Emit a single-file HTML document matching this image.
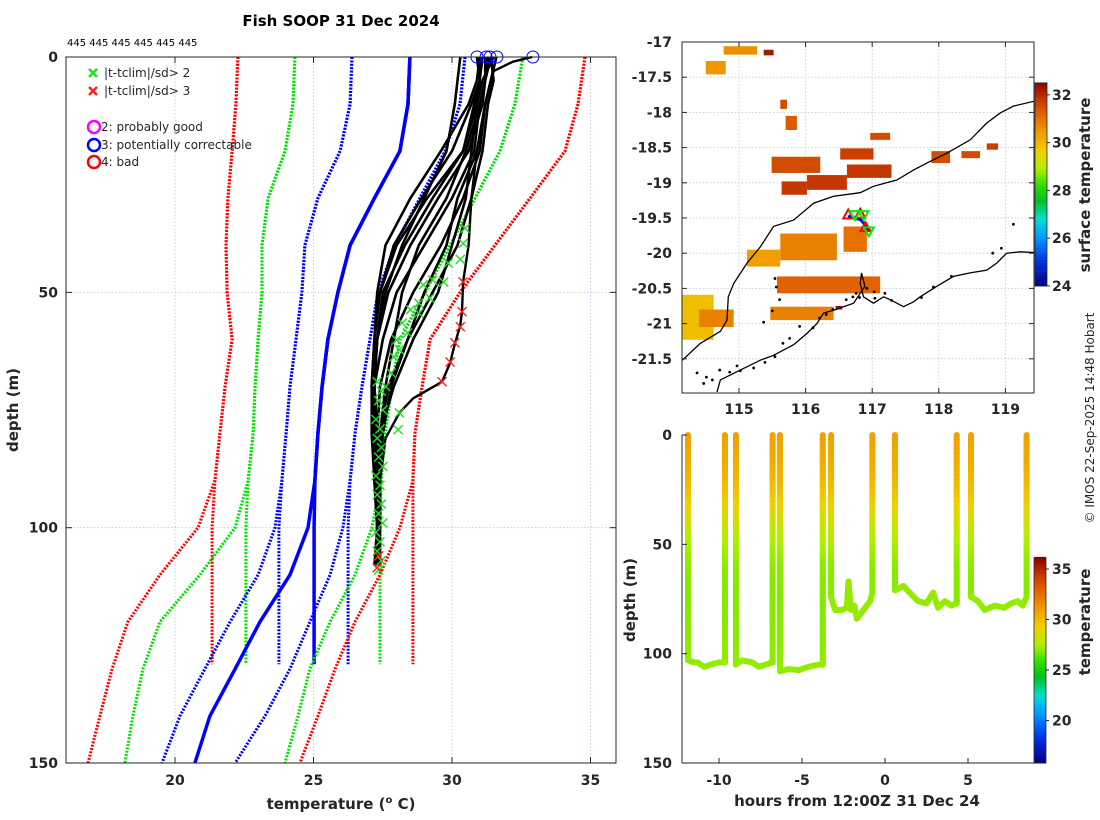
<!DOCTYPE html>
<html><head><meta charset="utf-8">
<style>
html,body{margin:0;padding:0;background:#fff;}
svg{display:block;font-family:"DejaVu Sans","Liberation Sans",sans-serif;}
.tk{font-size:14px;font-weight:bold;fill:#262626;}
.lb{font-size:15px;font-weight:bold;fill:#262626;}
</style></head>
<body>
<svg id="fig" width="1100" height="820" viewBox="0 0 1100 820" xmlns="http://www.w3.org/2000/svg">
<text x="341" y="26" text-anchor="middle" style="font-size:15px;font-weight:bold">Fish SOOP 31 Dec 2024</text>
<text x="67" y="46" style="font-size:10px">445 445 445 445 445 445</text>
<g id="left"></g>
<g id="map"></g>
<g id="br"></g>
<text transform="translate(1094,418) rotate(-90)" text-anchor="middle" style="font-size:12px;fill:#262626">© IMOS 22-Sep-2025 14:48 Hobart</text>
</svg>
<script>
// ===== Left panel data =====
const climDepthsUpper = [0,10,20,30,40,50,60,70,80,90,100];
const climDepthsA = [100,110,120,129];
const climDepthsB = [100,110,120,130,140,150];
const red3Lo   = [22.27,22.20,22.06,21.91,21.84,21.88,22.06,21.81,21.62,21.44,21.34];
const green2Lo = [24.33,24.26,23.97,23.36,23.14,23.14,23.00,22.89,22.82,22.64,22.56];
const blue1Lo  = [26.39,26.32,25.96,25.16,24.69,24.58,24.37,24.15,24.01,23.86,23.75];
const climMean = [28.48,28.41,28.12,27.20,26.32,25.88,25.52,25.31,25.16,25.05,25.02];
const blue1Hi  = [30.47,30.29,29.75,28.84,27.94,27.33,27.04,26.75,26.50,26.32,26.25];
const green2Hi = [32.56,32.27,31.73,30.83,29.93,29.03,28.12,27.83,27.58,27.44,27.40];
const red3Hi   = [34.80,34.55,34.08,32.82,31.55,30.29,29.21,28.92,28.66,28.59,28.59];
const tailB_red3Lo   = [20.83,19.46,18.30,17.73,17.29,16.86];
const tailB_green2Lo = [22.17,20.90,19.46,18.84,18.48,18.19];
const tailB_blue1Lo  = [23.61,23.00,21.99,21.08,20.18,19.53];
const tailB_mean     = [24.80,24.15,23.07,22.17,21.26,20.72];
const tailB_blue1Hi  = [26.06,25.60,24.87,24.15,23.25,22.17];
const tailB_green2Hi = [27.11,26.50,25.60,24.87,24.44,23.97];
const tailB_red3Hi   = [28.12,27.40,26.50,25.78,25.16,24.51];
const profDepths = [0,5,10,20,30,40,50,60,70,80,90,100,108];
const profTemps = [
 [30.9,31.0,30.9,30.4,29.1,28.0,27.4,27.2,27.1,27.2,27.3,27.4,27.3],
 [31.2,31.2,31.1,30.6,29.5,28.5,27.7,27.3,27.2,27.2,27.3,27.3,27.4],
 [31.4,31.2,31.0,30.8,30.0,29.0,28.0,27.5,27.2,27.3,27.3,27.3,27.3],
 [31.6,31.4,31.2,31.0,30.4,29.6,28.6,27.8,27.4,27.3,27.4,27.3,27.4],
 [31.4,31.5,31.3,31.1,30.7,30.2,29.3,28.4,27.7,27.4,27.4,27.4,27.3],
 [30.3,30.2,30.1,29.8,29.0,28.2,27.6,27.3,27.2,27.3,27.3,27.3,27.3],
 [31.3,31.2,31.0,30.5,29.8,28.8,28.2,27.9,27.6,27.4,27.4,27.3,27.3],
 [31.0,31.0,30.8,30.4,29.3,28.3,27.5,27.3,27.1,27.2,27.3,27.3,27.2],
 [31.6,31.4,31.2,30.9,30.2,29.8,29.0,28.4,27.8,27.5,27.4,27.4,27.4],
 [31.5,31.1,30.9,30.7,30.5,30.0,29.5,28.6,27.9,27.4,27.3,27.3,27.3],
 [31.0,30.9,30.6,29.6,28.5,27.6,27.3,27.2,27.1,27.2,27.2,27.3,27.3],
 [31.1,31.0,30.7,30.0,28.9,27.9,27.4,27.2,27.1,27.1,27.2,27.3,27.3]
];
const warmDepths = [0,1,3,10,20,30,40,47.8,54,57,61,65,69,72.5,75.6,81,90,100,108];
const warmTemps  = [32.9,32.2,31.5,31.2,30.9,30.7,30.6,30.4,30.36,30.3,30.1,29.93,29.64,28.6,28.1,27.6,27.4,27.4,27.3];
const flagGreenT = [30.47,30.4,30.3,29.86,29.7,29.3,28.96,29.2,28.8,28.8,28.5,28.2,28.4,28.0,28.1,27.9,27.8,27.6,28.1,28.05,
 27.3,27.45,27.35,27.5,27.25,27.4,27.3,27.45,27.35,27.5,27.25,27.4,27.3,27.45,27.35,27.5,27.25,27.4,27.3,27.45,27.35];
const flagGreenD = [36.4,39.6,43,43.8,47.8,47.4,48.4,51.2,52.3,54.4,53.7,56.5,58.6,60.1,62.2,63.7,67.1,70,75.6,79.2,
 69,71,73,75,77,79,81,83,85,87,89,91,93,95,97,99,101,103,105,107,109];
const flagRedT = [30.4,30.36,30.3,30.1,29.93,29.64,27.35,27.3];
const flagRedD = [47.8,54.1,57.3,60.7,64.8,69,106,108.5];
const qcCircleT = [30.9,31.23,31.37,31.62,32.92];
const xTicksL = [20,25,30,35];
const yTicksL = [0,50,100,150];

// ===== Map data =====
const mapLonTicks = [115,116,117,118,119];
const mapLatTicks = [-17,-17.5,-18,-18.5,-19,-19.5,-20,-20.5,-21,-21.5];
const sstLon0 = [114.77,115.37,114.50,115.62,115.70,116.97,116.52,115.49,115.64,116.02,116.62,117.89,118.34,118.72,115.62,115.12,116.57,115.57,115.47,114.15,114.40,116.45];
const sstLon1 = [115.27,115.52,114.80,115.72,115.87,117.27,117.02,116.22,116.02,116.62,117.29,118.17,118.62,118.89,116.47,115.62,116.92,117.12,116.42,114.62,114.92,116.55];
const sstLat0 = [-17.06,-17.11,-17.27,-17.82,-18.05,-18.29,-18.51,-18.63,-18.98,-18.89,-18.74,-18.55,-18.55,-18.44,-19.72,-19.95,-19.62,-20.33,-20.76,-20.59,-20.80,-20.75];
const sstLat1 = [-17.18,-17.19,-17.46,-17.95,-18.25,-18.39,-18.67,-18.86,-19.17,-19.10,-18.93,-18.72,-18.65,-18.53,-20.10,-20.19,-19.98,-20.57,-20.95,-21.23,-21.05,-20.80];
const sstTemp = [30.6,32.2,30.5,31.5,31.3,31.5,31.7,31.5,31.8,31.8,31.8,31.5,31.5,31.7,30.8,30.4,31.0,31.2,30.8,29.9,30.8,32.3];
const coastLon = [114.67,114.72,115.02,115.32,115.52,115.82,116.02,116.17,116.27,116.42,116.72,116.82,116.89,116.84,116.82,116.87,117.02,117.17,117.27,117.47,117.62,117.72,117.97,118.22,118.47,118.72,118.87,119.02,119.22,119.44];
const coastLat = [-21.97,-21.80,-21.66,-21.52,-21.45,-21.30,-21.14,-21.00,-20.85,-20.81,-20.71,-20.57,-20.47,-20.28,-20.43,-20.62,-20.71,-20.62,-20.66,-20.76,-20.69,-20.62,-20.47,-20.33,-20.28,-20.24,-20.14,-20.00,-19.98,-19.99];
const isoLon = [114.15,114.42,114.72,114.82,114.84,114.92,115.12,115.32,115.52,115.82,116.12,116.42,116.82,117.02,117.37,117.62,117.82,118.12,118.47,118.72,118.92,119.12,119.44];
const isoLat = [-21.52,-21.28,-21.11,-20.95,-20.62,-20.43,-20.14,-19.91,-19.62,-19.53,-19.29,-19.19,-19.14,-19.05,-18.96,-18.82,-18.72,-18.58,-18.39,-18.15,-18.01,-17.91,-17.84];
const islandLon = [119.12,118.94,118.81,118.19,117.92,117.74,114.51,114.71,114.86,114.97,115.02,115.22,115.39,115.54,115.66,115.76,115.91,116.11,116.21,116.31,116.41,116.61,116.71,116.76,116.81,117.04,117.19,117.29,115.56,115.54,115.61,115.37,115.50,114.37,114.47,114.60,116.92,117.03];
const islandLat = [-19.59,-19.93,-20.00,-20.33,-20.48,-20.63,-21.76,-21.66,-21.69,-21.60,-21.67,-21.63,-21.55,-21.47,-21.28,-21.21,-21.04,-21.06,-20.92,-20.87,-20.80,-20.66,-20.62,-20.57,-20.63,-20.64,-20.57,-20.67,-20.48,-20.36,-20.66,-20.98,-20.82,-21.70,-21.85,-21.80,-20.50,-20.55];
const trackLon = [116.64,116.72,116.82,116.90,116.95];
const trackLat = [-19.47,-19.50,-19.52,-19.60,-19.68];
const upTriLon = [116.64,116.82,116.90];
const upTriLat = [-19.45,-19.44,-19.63];
const downTriLon = [116.74,116.87,116.95];
const downTriLat = [-19.46,-19.46,-19.69];
const cb1Ticks = [24,26,28,30,32];

// ===== Depth-time data =====
const dropTimes = [-11.87,-9.64,-8.98,-6.77,-6.33,-3.75,-3.25,-0.76,0.60,4.32,5.18,8.53];
const dropBottoms = [103,104,105,104,108,105,74,72,71,77,74,74];
const bottomH = [
 [-11.87,-11.5,-11.3,-10.9,-10.5,-10.0,-9.64],
 [-8.98,-8.6,-8.0,-7.6,-7.2,-6.77],
 [-6.33,-5.8,-5.2,-4.6,-4.0,-3.75],
 [-3.25,-3.0,-2.6,-2.3,-2.2,-2.05,-1.85,-1.7,-1.5,-1.2,-0.9,-0.76],
 [0.60,1.1,1.6,2.0,2.5,2.9,3.2,3.6,4.0,4.32],
 [5.18,5.6,6.0,6.6,7.2,7.6,8.0,8.3,8.53]
];
const bottomD = [
 [103,104,104,106,105,104,104],
 [105,103,104,106,105,104],
 [108,107,107.5,106,105,105],
 [74,80,80,79,67,80,78,84,82,79,76,72],
 [71,69,73,76,77,72,79,76,78,77],
 [74,76,80,78,79,77,76,78,74]
];
const tProfDepth = [0,10,20,30,40,50,60,75,110];
const tProfTemp  = [31.0,30.6,30.2,29.4,28.3,27.5,27.1,27.0,27.2];
const xTicksR = [-10,-5,0,5];
const yTicksR = [0,50,100,150];
const cb2Ticks = [20,25,30,35];

// ===== helpers =====
const NS='http://www.w3.org/2000/svg';
function mk(tag, attrs, parent){const e=document.createElementNS(NS,tag);for(const k in attrs)e.setAttribute(k,attrs[k]);parent.appendChild(e);return e;}
const stops=[[0,[0,0,128]],[0.12,[0,48,224]],[0.25,[0,160,255]],[0.33,[0,224,208]],[0.42,[0,192,32]],[0.5,[48,224,0]],[0.58,[176,240,0]],[0.66,[240,208,0]],[0.75,[240,160,0]],[0.85,[224,96,0]],[0.93,[192,48,0]],[1,[144,0,0]]];
function cmap(v){v=Math.max(0,Math.min(1,v));for(let i=1;i<stops.length;i++){if(v<=stops[i][0]){const a=stops[i-1],b=stops[i];const f=(v-a[0])/(b[0]-a[0]);const c=a[1].map((x,j)=>Math.round(x+(b[1][j]-x)*f));return `rgb(${c[0]},${c[1]},${c[2]})`;}}return 'rgb(144,0,0)';}
function interp(xs,ys,x){if(x<=xs[0])return ys[0];for(let i=1;i<xs.length;i++){if(x<=xs[i]){const f=(x-xs[i-1])/(xs[i]-xs[i-1]);return ys[i-1]+(ys[i]-ys[i-1])*f;}}return ys[ys.length-1];}
function pts(xs,ys,fx,fy){return xs.map((x,i)=>fx(x).toFixed(1)+','+fy(ys[i]).toFixed(1)).join(' ');}

// ===== Left panel =====
const L=document.getElementById('left');
const xL=t=>175+(t-20)*27.7, yL=d=>57+d*4.707;
mk('rect',{x:66,y:57,width:550,height:706,fill:'#fff'},L);
xTicksL.forEach(t=>{const g=mk('line',{x1:xL(t),x2:xL(t),y1:57,y2:763,stroke:'#b8c4e0','stroke-width':0.8,'stroke-dasharray':'1.5 2'},L);});
yTicksL.slice(1,3).forEach(d=>{const g=mk('line',{x1:66,x2:616,y1:yL(d),y2:yL(d),stroke:'#b8c4e0','stroke-width':0.8,'stroke-dasharray':'1.5 2'},L);});
const climSets=[[red3Lo,tailB_red3Lo,'#ff0000',true,'clim-minus-3sd'],[green2Lo,tailB_green2Lo,'#00e000',true,'clim-minus-2sd'],[blue1Lo,tailB_blue1Lo,'#0000ff',true,'clim-minus-1sd'],[climMean,tailB_mean,'#0000ff',false,'clim-mean'],[blue1Hi,tailB_blue1Hi,'#0000ff',true,'clim-plus-1sd'],[green2Hi,tailB_green2Hi,'#00e000',true,'clim-plus-2sd'],[red3Hi,tailB_red3Hi,'#ff0000',true,'clim-plus-3sd']];
climSets.forEach(cs=>{
  const up=cs[0], last=up[up.length-1];
  const dA=climDepthsUpper.concat(climDepthsA.slice(1)), tA=up.concat(climDepthsA.slice(1).map(()=>last));
  const dB=climDepthsUpper.concat(climDepthsB.slice(1)), tB=up.slice(0,up.length-1).concat(cs[1]);
  [[dA,tA,'a'],[dB,tB,'b']].forEach((s,k)=>{
    const attrs={points:pts(s[1],s[0],xL,yL),fill:'none',stroke:cs[2],'stroke-width':cs[3]?3:3.5};
    if(cs[3])attrs['stroke-dasharray']='2 1.4';
    const p=mk('polyline',attrs,L);
    
    
  });
});
profTemps.forEach((tt,i)=>{const p=mk('polyline',{points:pts(tt,profDepths,xL,yL),fill:'none',stroke:'#000','stroke-width':2.6,'stroke-linejoin':'round'},L);
  
  });
{const p=mk('polyline',{points:pts(warmTemps,warmDepths,xL,yL),fill:'none',stroke:'#000','stroke-width':2.4,'stroke-linejoin':'round'},L);
 
 }
function xmark(cx,cy,col,parent,s){return mk('path',{d:`M${cx-s},${cy-s}L${cx+s},${cy+s}M${cx-s},${cy+s}L${cx+s},${cy-s}`,stroke:col,'stroke-width':1.4,fill:'none'},parent);}
flagGreenT.forEach((t,i)=>{const m=xmark(xL(t),yL(flagGreenD[i]),'#22dd22',L,4.5);
  
  });
flagRedT.forEach((t,i)=>{const m=xmark(xL(t),yL(flagRedD[i]),'#ff2020',L,4.5);
  
  });
qcCircleT.forEach(t=>{const c=mk('circle',{cx:xL(t),cy:yL(0),r:6,fill:'none',stroke:'#0000ff','stroke-width':1},L);
  
  });
mk('rect',{x:66,y:57,width:550,height:706,fill:'none',stroke:'#262626','stroke-width':1},L);
xTicksL.forEach(t=>{mk('line',{x1:xL(t),x2:xL(t),y1:763,y2:757,stroke:'#262626'},L);mk('line',{x1:xL(t),x2:xL(t),y1:57,y2:63,stroke:'#262626'},L);
  const tx=mk('text',{x:xL(t),y:785,'text-anchor':'middle',class:'tk'},L);tx.textContent=t;
  
  });
yTicksL.forEach(d=>{mk('line',{x1:66,x2:72,y1:yL(d),y2:yL(d),stroke:'#262626'},L);mk('line',{x1:610,x2:616,y1:yL(d),y2:yL(d),stroke:'#262626'},L);
  const tx=mk('text',{x:58,y:yL(d)+5,'text-anchor':'end',class:'tk'},L);tx.textContent=d;
  
  });
{const t=mk('text',{x:341,y:809,'text-anchor':'middle',class:'lb'},L);t.innerHTML='temperature (<tspan dy="-6" style="font-size:10px">o</tspan><tspan dy="6"> C)</tspan>';
 
 
 const y=mk('text',{transform:'translate(18,410) rotate(-90)','text-anchor':'middle',class:'lb'},L);y.textContent='depth (m)';
 
 }
// legend
{const lg=mk('g',{},L);
 const items=[['x','#22dd22',73,'|t-tclim|/sd> 2'],['x','#ff2020',91,'|t-tclim|/sd> 3'],['o','#ff00ff',127,'2: probably good'],['o','#0000ff',145,'3: potentially correctable'],['o','#ff0000',162,'4: bad']];
 items.forEach(it=>{
   if(it[0]==='x'){const m=mk('path',{d:`M89,${it[2]-4}L97,${it[2]+4}M89,${it[2]+4}L97,${it[2]-4}`,stroke:it[1],'stroke-width':2.5},lg);}
   else mk('circle',{cx:94,cy:it[2],r:6,fill:'none',stroke:it[1],'stroke-width':2.5},lg);
   const t=mk('text',{x:it[0]==='x'?104:101,y:it[2]+4,style:'font-size:12px;fill:#262626'},lg);t.textContent=it[3];
   
   
 });}

// ===== Map =====
const M=document.getElementById('map');
const lonX=lon=>739+(lon-115)*66.6, latY=lat=>42+(-17-lat)*70.4;
mk('rect',{x:682,y:42,width:352,height:351,fill:'#fff'},M);
const clip=mk('clipPath',{id:'mapclip'},M);mk('rect',{x:682,y:42,width:352,height:351},clip);
const MG=mk('g',{'clip-path':'url(#mapclip)'},M);
mapLonTicks.forEach(l=>{const g=mk('line',{x1:lonX(l),x2:lonX(l),y1:42,y2:393,stroke:'#b8c4e0','stroke-width':0.8,'stroke-dasharray':'1.5 2'},MG);});
mapLatTicks.forEach(l=>{const g=mk('line',{x1:682,x2:1034,y1:latY(l),y2:latY(l),stroke:'#b8c4e0','stroke-width':0.8,'stroke-dasharray':'1.5 2'},MG);});
sstTemp.forEach((t,i)=>{const x0=lonX(sstLon0[i]),x1=lonX(sstLon1[i]),y0=latY(sstLat0[i]),y1=latY(sstLat1[i]);
  const r=mk('rect',{x:Math.min(x0,x1),y:Math.min(y0,y1),width:Math.abs(x1-x0),height:Math.abs(y1-y0),fill:cmap((t-24)/8.5)},MG);
  
  });
{const c=mk('polyline',{points:pts(coastLon,coastLat,lonX,latY),fill:'none',stroke:'#000','stroke-width':1.3},MG);
 
 const s=mk('polyline',{points:pts(isoLon,isoLat,lonX,latY),fill:'none',stroke:'#000','stroke-width':1.3},MG);
 }
islandLon.forEach((l,i)=>{const c=mk('circle',{cx:lonX(l),cy:latY(islandLat[i]),r:1.4,fill:'#000'},MG);
  
  });
{const t=mk('polyline',{points:pts(trackLon,trackLat,lonX,latY),fill:'none',stroke:'#0000ff','stroke-width':3},MG);
 }
upTriLon.forEach((l,i)=>{const x=lonX(l),y=latY(upTriLat[i]);const p=mk('polygon',{points:`${x},${y-5} ${x-5},${y+4} ${x+5},${y+4}`,fill:'none',stroke:'#ff0000','stroke-width':2},MG);
  });
downTriLon.forEach((l,i)=>{const x=lonX(l),y=latY(downTriLat[i]);const p=mk('polygon',{points:`${x},${y+5} ${x-5},${y-4} ${x+5},${y-4}`,fill:'none',stroke:'#00ee00','stroke-width':2},MG);
  });
mk('rect',{x:682,y:42,width:352,height:351,fill:'none',stroke:'#262626','stroke-width':1},M);
mapLonTicks.forEach(l=>{mk('line',{x1:lonX(l),x2:lonX(l),y1:393,y2:388,stroke:'#262626'},M);mk('line',{x1:lonX(l),x2:lonX(l),y1:42,y2:47,stroke:'#262626'},M);
  const t=mk('text',{x:lonX(l),y:414,'text-anchor':'middle',class:'tk'},M);t.textContent=l;
  });
mapLatTicks.forEach(l=>{mk('line',{x1:682,x2:687,y1:latY(l),y2:latY(l),stroke:'#262626'},M);mk('line',{x1:1034,x2:1029,y1:latY(l),y2:latY(l),stroke:'#262626'},M);
  const t=mk('text',{x:672,y:latY(l)+5,'text-anchor':'end',class:'tk'},M);t.textContent=l;
  });
// colorbar 1
{const cbY=t=>286-(t-24)*23.9;const g=mk('g',{},M);
 for(let t=24;t<32.5;t+=0.1){mk('rect',{x:1035,y:cbY(t+0.1),width:12,height:2.6,fill:cmap((t+0.05-24)/8.5)},g);}
 mk('rect',{x:1035,y:cbY(32.5),width:12,height:cbY(24)-cbY(32.5),fill:'none',stroke:'#262626','stroke-width':0.8},g);
 cb1Ticks.forEach(t=>{mk('line',{x1:1047,x2:1050,y1:cbY(t),y2:cbY(t),stroke:'#262626'},g);const tx=mk('text',{x:1052,y:cbY(t)+5,class:'tk'},g);tx.textContent=t;
  });
 const lb=mk('text',{transform:'translate(1090,185) rotate(-90)','text-anchor':'middle',class:'lb'},g);lb.textContent='surface temperature';
 }

// ===== Depth-time =====
const B=document.getElementById('br');
const hX=h=>885+h*16.6, yR=d=>435+d*2.187;
for(let k=0;k<dropTimes.length;k++){
  const h=dropTimes[k], bd=dropBottoms[k];
  for(let d=0; d<bd; d+=2){
    const t=interp(tProfDepth,tProfTemp,d);
    const s=mk('line',{x1:hX(h),x2:hX(h),y1:yR(d),y2:yR(Math.min(d+2.3,bd)),stroke:cmap((t-15.8)/20.3),'stroke-width':6,'stroke-linecap':'round'},B);
    
    
  }
}
bottomH.forEach((hs,i)=>{const ds=bottomD[i];const t=interp(tProfDepth,tProfTemp,110);
  const p=mk('polyline',{points:pts(hs,ds,hX,yR),fill:'none',stroke:cmap((t-15.8)/20.3),'stroke-width':6,'stroke-linejoin':'round','stroke-linecap':'round'},B);
  
  });
mk('line',{x1:682,x2:682,y1:435,y2:763,stroke:'#262626'},B);
mk('line',{x1:682,x2:1034,y1:763,y2:763,stroke:'#262626'},B);
xTicksR.forEach(h=>{mk('line',{x1:hX(h),x2:hX(h),y1:763,y2:758,stroke:'#262626'},B);
  const t=mk('text',{x:hX(h),y:785,'text-anchor':'middle',class:'tk'},B);t.textContent=h;
  });
yTicksR.forEach(d=>{mk('line',{x1:682,x2:687,y1:yR(d),y2:yR(d),stroke:'#262626'},B);
  const t=mk('text',{x:672,y:yR(d)+5,'text-anchor':'end',class:'tk'},B);t.textContent=d;
  });
{const t=mk('text',{x:857,y:806,'text-anchor':'middle',class:'lb'},B);t.textContent='hours from 12:00Z 31 Dec 24';
 
 const y=mk('text',{transform:'translate(635,600) rotate(-90)','text-anchor':'middle',class:'lb'},B);y.textContent='depth (m)';
 }
{const cbY=t=>569+(35-t)*10.1;const g=mk('g',{},B);
 for(let t=15.8;t<36.1;t+=0.2){mk('rect',{x:1034,y:cbY(t+0.2),width:12,height:2.6,fill:cmap((t+0.1-15.8)/20.3)},g);}
 mk('rect',{x:1034,y:cbY(36.1),width:12,height:cbY(15.8)-cbY(36.1),fill:'none',stroke:'#262626','stroke-width':0.8},g);
 cb2Ticks.forEach(t=>{mk('line',{x1:1046,x2:1049,y1:cbY(t),y2:cbY(t),stroke:'#262626'},g);const tx=mk('text',{x:1052,y:cbY(t)+5,class:'tk'},g);tx.textContent=t;
  });
 const lb=mk('text',{transform:'translate(1090,622) rotate(-90)','text-anchor':'middle',class:'lb'},g);lb.textContent='temperature';
 }
</script>
</body></html>
